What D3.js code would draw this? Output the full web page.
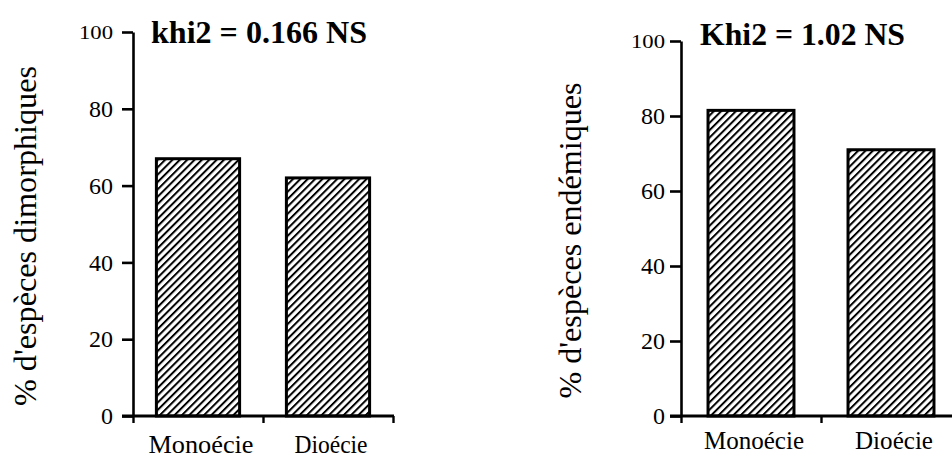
<!DOCTYPE html>
<html>
<head>
<meta charset="utf-8">
<script src="https://cdn.jsdelivr.net/npm/d3@7"></script>
<style>
  html, body { margin: 0; padding: 0; background: #fff; }
  svg { display: block; }
  text { font-family: "Liberation Serif", "Times New Roman", serif; fill: #000; }
</style>
</head>
<body>
<svg id="chart" width="952" height="459"></svg>
<script>
// ---- data ----
const categories = ["Monoécie", "Dioécie"];
const dimorphicValues = [67, 62];
const endemicValues = [81.5, 71];
const yTickValues = [0, 20, 40, 60, 80, 100];
const panelTitles = ["khi2 = 0.166 NS", "Khi2 = 1.02 NS"];
const yAxisTitles = ["% d'espèces dimorphiques", "% d'espèces endémiques"];

// ---- layout (positions kept separate from data) ----
const panels = [
  { values: dimorphicValues, title: panelTitles[0], ytitle: yAxisTitles[0],
    x0: 133, x1: 393, yTop: 32, yBottom: 416, padIn: 0.36, tickPad: 9,
    titleX: 151, titleY: 43, titleLen: 216, ytitleX: 25, ytitleLen: 340, xlabelY: 453, catLen: [105, 73] },
  { values: endemicValues, title: panelTitles[1], ytitle: yAxisTitles[1],
    x0: 681, x1: 961, yTop: 41, yBottom: 416, padIn: 0.386, tickPad: 5,
    titleX: 700, titleY: 45, titleLen: 205, ytitleX: 570, ytitleLen: 316, xlabelY: 449, catLen: [100, 78] }
];

const svg = d3.select("#chart");
svg.append("rect").attr("width", 952).attr("height", 459).attr("fill", "#fff");

const defs = svg.append("defs");
const pat = defs.append("pattern")
  .attr("id", "hatch")
  .attr("patternUnits", "userSpaceOnUse")
  .attr("width", 5.2).attr("height", 5.2)
  .attr("patternTransform", "rotate(45)");
pat.append("rect").attr("width", 5.2).attr("height", 5.2).attr("fill", "#fff");
pat.append("line").attr("x1", 1).attr("y1", 0).attr("x2", 1).attr("y2", 5.2)
  .attr("stroke", "#000").attr("stroke-width", 2);

panels.forEach(p => {
  const g = svg.append("g");
  const x = d3.scaleBand().domain(categories).range([p.x0, p.x1])
    .paddingInner(p.padIn).paddingOuter(p.padIn / 2);
  const y = d3.scaleLinear().domain([0, 100]).range([p.yBottom, p.yTop]);

  // bars
  g.selectAll("rect.bar").data(p.values).join("rect")
    .attr("class", "bar")
    .attr("x", (d, i) => x(categories[i]))
    .attr("y", d => y(d))
    .attr("width", x.bandwidth())
    .attr("height", d => y(0) - y(d))
    .attr("fill", "url(#hatch)")
    .attr("stroke", "#000")
    .attr("stroke-width", 3);

  // y axis
  const yAxis = g.append("g")
    .attr("transform", `translate(${p.x0},0)`)
    .call(d3.axisLeft(y).tickValues(yTickValues).tickSize(11).tickPadding(p.tickPad).tickSizeOuter(0));
  yAxis.attr("font-size", null).attr("font-family", null);
  yAxis.select(".domain").attr("stroke", "#000").attr("stroke-width", 2.6);
  yAxis.selectAll(".tick line").attr("stroke", "#000").attr("stroke-width", 2.6);
  yAxis.selectAll(".tick text")
    .style("font-size", d => d === 100 ? "19px" : "24px")
    .attr("textLength", d => d === 100 ? 34 : (d === 0 ? null : 24))
    .attr("lengthAdjust", "spacingAndGlyphs")
    .attr("fill", "#000");

  // x axis: baseline with ticks at category boundaries
  const nB = categories.length;
  const xb = d3.scaleLinear().domain([0, nB]).range([p.x0, p.x0 + nB * x.step()]);
  const xAxis = g.append("g")
    .attr("transform", `translate(0,${p.yBottom})`)
    .call(d3.axisBottom(xb).tickValues(d3.range(nB + 1)).tickSize(7).tickFormat("").tickSizeOuter(0));
  xAxis.select(".domain").remove();
  xAxis.selectAll(".tick line").attr("stroke", "#000").attr("stroke-width", 2.4);
  g.append("line")
    .attr("x1", p.x0 - 11).attr("x2", xb(nB) + 1)
    .attr("y1", p.yBottom).attr("y2", p.yBottom)
    .attr("stroke", "#000").attr("stroke-width", 2.8);

  // category labels
  g.selectAll("text.cat").data(categories).join("text")
    .attr("class", "cat")
    .attr("x", c => x(c) + x.bandwidth() / 2 + 3)
    .attr("y", p.xlabelY)
    .attr("text-anchor", "middle")
    .style("font-size", "25px")
    .attr("textLength", (c, i) => p.catLen[i]).attr("lengthAdjust", "spacingAndGlyphs")
    .text(c => c);

  // title
  g.append("text")
    .attr("x", p.titleX).attr("y", p.titleY)
    .style("font-size", "31px").style("font-weight", "bold")
    .attr("textLength", p.titleLen).attr("lengthAdjust", "spacingAndGlyphs")
    .text(p.title);

  // y axis title
  g.append("text")
    .attr("transform", `translate(${p.ytitleX + 11},${(p.yTop + p.yBottom) / 2 + 12}) rotate(-90)`)
    .attr("text-anchor", "middle")
    .style("font-size", "31px")
    .attr("textLength", p.ytitleLen).attr("lengthAdjust", "spacingAndGlyphs")
    .text(p.ytitle);
});
</script>
</body>
</html>
